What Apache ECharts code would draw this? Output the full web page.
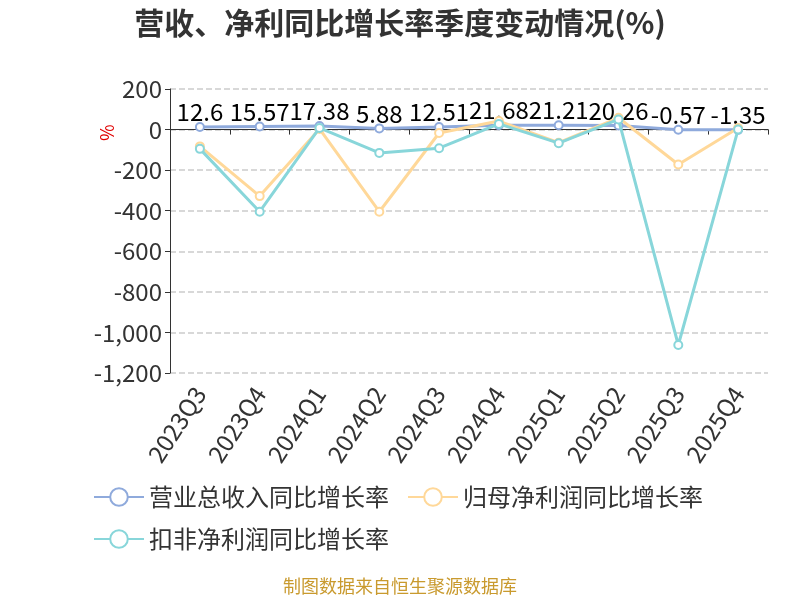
<!DOCTYPE html>
<html>
<head>
<meta charset="utf-8">
<script src="https://cdn.jsdelivr.net/npm/echarts@6/dist/echarts.min.js"></script>
<style>
  html, body { margin: 0; padding: 0; background: #fff; }
  #main { width: 800px; height: 600px; }
</style>
</head>
<body>
<div id="main"></div>
<script>
// 季度
var quarters = ['2023Q3','2023Q4','2024Q1','2024Q2','2024Q3','2024Q4','2025Q1','2025Q2','2025Q3','2025Q4'];
// 营业总收入同比增长率
var revenueYoy = [12.6, 15.57, 17.38, 5.88, 12.51, 21.68, 21.21, 20.26, -0.57, -1.35];
// 归母净利润同比增长率
var netProfitYoy = [-83, -328, 3, -405, -17, 42, -65, 58, -172, 8];
// 扣非净利润同比增长率
var deductedYoy = [-95, -405, 8, -115, -92, 28, -67, 50, -1062, 0];
var seriesNames = ['营业总收入同比增长率','归母净利润同比增长率','扣非净利润同比增长率'];
var colors = ['#8FAADC','#FFD899','#88D6DA'];

var myChart = echarts.init(document.getElementById('main'));

var option = {
    animation: false,
    color: colors,
    title: {
        text: '营收、净利同比增长率季度变动情况(%)',
        left: 'center',
        top: 3,
        textStyle: { fontSize: 30, fontWeight: 'bold', color: '#333', fontFamily: 'Noto Sans CJK SC' }
    },
    graphic: [
        {
            type: 'text',
            left: 'center',
            top: 577,
            style: { text: '制图数据来自恒生聚源数据库', fill: '#C99A2E', fontSize: 18, fontFamily: 'Noto Sans CJK SC' }
        },
        {
            type: 'text',
            x: 98, y: 141,
            rotation: Math.PI / 2,
            style: { text: '%', fill: '#E00000', fontSize: 18, fontFamily: 'Noto Sans CJK SC' }
        }
    ],
    legend: {
        left: 88,
        top: 480,
        width: 660,
        itemWidth: 50,
        itemHeight: 22,
        itemGap: 18,
        textStyle: { fontSize: 24, lineHeight: 24, color: '#333', fontFamily: 'Noto Sans CJK SC' },
        data: seriesNames
    },
    grid: { left: 170, right: 32, top: 89, bottom: 227 },
    xAxis: [
        {
            type: 'category',
            data: quarters,
            axisLine: { onZero: true, lineStyle: { color: '#333' } },
            axisTick: { show: true, lineStyle: { color: '#333' } },
            axisLabel: { show: false }
        },
        {
            type: 'category',
            data: quarters,
            position: 'bottom',
            axisLine: { show: false },
            axisTick: { show: false },
            axisLabel: { rotate: 57, fontSize: 24, color: '#333', margin: 16, fontFamily: 'Noto Sans CJK SC' }
        }
    ],
    yAxis: {
        type: 'value',
        min: -1200,
        max: 200,
        interval: 200,
        axisLine: { show: true, lineStyle: { color: '#333' } },
        axisTick: { show: true },
        axisLabel: { fontSize: 24, color: '#333', fontFamily: 'Noto Sans CJK SC' },
        splitLine: { lineStyle: { type: 'dashed', color: '#ccc', width: 1.5 } }
    },
    series: [
        {
            name: seriesNames[0],
            type: 'line',
            data: revenueYoy,
            symbol: 'emptyCircle',
            symbolSize: 8,
            lineStyle: { width: 3 },
            label: { show: true, position: 'top', fontSize: 24, color: '#000', distance: -2, fontFamily: 'Noto Sans CJK SC' },
            z: 2
        },
        {
            name: seriesNames[1],
            type: 'line',
            data: netProfitYoy,
            symbol: 'emptyCircle',
            symbolSize: 8,
            lineStyle: { width: 3 },
            z: 3
        },
        {
            name: seriesNames[2],
            type: 'line',
            data: deductedYoy,
            symbol: 'emptyCircle',
            symbolSize: 8,
            lineStyle: { width: 3 },
            z: 4
        }
    ]
};

myChart.setOption(option);
</script>
</body>
</html>
